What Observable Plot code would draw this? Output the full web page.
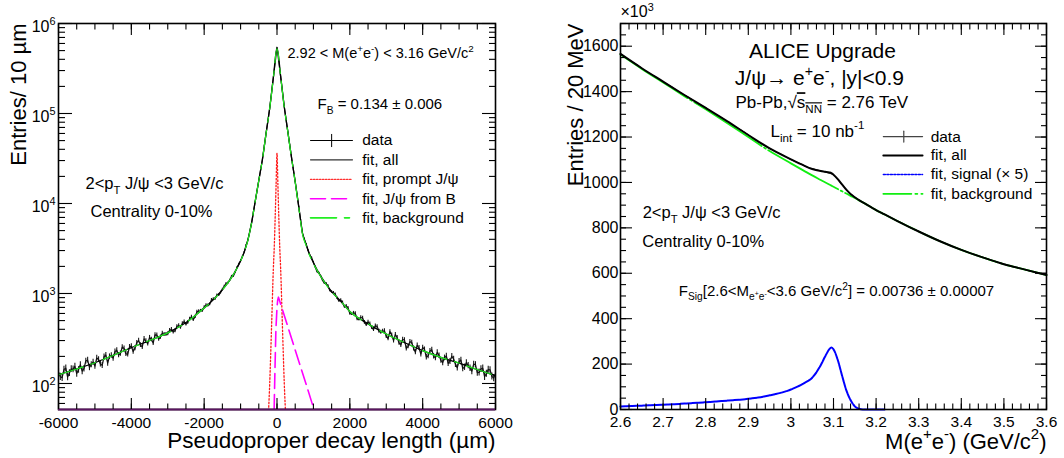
<!DOCTYPE html>
<html><head><meta charset="utf-8">
<script src="https://cdn.jsdelivr.net/npm/d3@7"></script>
<script src="https://cdn.jsdelivr.net/npm/@observablehq/plot@0.6"></script>
<style>
body{margin:0;background:#fff;}
#wrap{display:flex;width:1064px;height:458px;}
</style></head><body><div id="wrap"></div>
<script>
const FONT = '"Liberation Sans", Arial, Helvetica, sans-serif';

// ================= LEFT PANEL DATA (pseudoproper decay length) =================
const leftXTicks = [-6000, -4000, -2000, 0, 2000, 4000, 6000];
const leftYTicks = [1e2, 1e3, 1e4, 1e5, 1e6];
const leftYMin = 51.4, leftYMax = 1e6;
const leftDataX0 = -6000, leftDataStep = 50;
const leftData = [
  134,119,116,143,148,118,131,145,144,155,129,142,162,137,146,178,182,151,162,173,156,
  192,185,165,159,198,207,168,199,205,191,226,234,207,215,254,245,214,211,255,260,
  227,247,284,300,267,255,314,296,277,324,309,281,347,345,312,328,362,351,351,358,
  389,399,375,385,429,441,421,464,486,456,478,520,551,512,550,625,636,640,645,704,
  742,735,759,848,870,872,959,960,1024,1111,1199,1288,1308,1406,1550,1555,1725,1938,2121,2323,
  2574,2871,3434,3939,4880,6050,7930,10400,13700,18100,23600,30800,43200,60500,83000,114000,169500,252000,368000,545000,
  374000,257000,175000,119000,85500,61500,44600,32400,23700,17400,12600,9100,6500,4650,4050,3535,3020,2646,2499,2222,
  1960,1746,1677,1550,1397,1303,1288,1217,1077,1040,1020,979,887,826,845,796,710,728,692,599,
  592,608,601,522,516,541,534,478,450,483,460,418,398,437,430,380,371,380,386,334,
  316,377,345,299,350,323,283,268,308,305,246,259,291,286,246,223,266,248,212,251,
  239,197,202,229,237,201,193,222,204,181,171,193,203,167,176,201,187,163,150,176,
  182,147,152,171,158,148,137,164,162,132,133,145,148,119,129,143,142,120,115,129
];
const leftFitX = [-6000,-5500,-5000,-4500,-4000,-3500,-3000,-2500,-2000,-1750,-1500,-1250,-1000,-900,-800,-700,-600,-500,-400,-300,-200,-100,0,100,200,300,400,500,600,700,800,900,1000,1250,1500,1750,2000,2500,3000,3500,4000,4500,5000,5500,6000];
const leftFitAll = [125,145,170,205,250,300,365,475,690,850,1100,1500,2300,2900,3900,6000,10500,18000,31000,60000,115000,250000,540000,260000,118000,62000,32000,17500,9000,4700,3500,2700,2200,1450,1050,820,630,460,355,285,232,195,168,143,122];
const leftFitBkg = [125,145,170,205,250,300,365,475,690,850,1100,1500,2300,2900,3900,6000,10500,18000,31000,60000,114000,247000,525000,256000,117000,61500,31700,17300,8850,4580,3400,2630,2150,1440,1048,820,630,460,355,285,232,195,168,143,122];
const promptX = [-250,-200,-150,-100,-75,-50,-25,0,25,50,75,100,150,200,250];
const promptY = [35,100,420,1900,3300,7000,16000,36000,16000,7000,3300,1900,420,100,35];
const fromBX = [-90,-60,-30,0,20,40,200,400,600,800,1000,1200];
const fromBY = [30,120,400,700,850,910,570,316,175,98,54,30];
const leftLegendLabels = ["data", "fit, all", "fit, prompt J/ψ", "fit, J/ψ from B", "fit, background"];
const leftLegendRows = [50100, 30600, 18500, 11270, 6930];

// ================= RIGHT PANEL DATA (invariant mass) =================
const rightXTicks = [2.6,2.7,2.8,2.9,3.0,3.1,3.2,3.3,3.4,3.5,3.6];
const rightYTicks = [0,200,400,600,800,1000,1200,1400,1600];
const rightDataX0 = 2.6, rightDataStep = 0.02;
const rightData = [1567,1540,1517,1489,1468,1443,1422,1396,1375,1349,1330,1304,1283,1256,1235,1210,1183,1160,1139,1122,1100,1085,1066,1056,1046,1035,990,950,921,901,877,860,839,822,801,785,766,750,734,717,704,689,677,665,651,641,629,621,610,602,592];
const rightFitM = [2.60,2.65,2.70,2.75,2.80,2.85,2.90,2.95,3.00,3.03,3.05,3.07,3.08,3.09,3.095,3.10,3.11,3.12,3.13,3.14,3.15,3.16,3.17,3.20,3.22,3.25,3.30,3.35,3.40,3.45,3.50,3.55,3.60];
const rightFitAll = [1566,1503,1444,1385,1328,1270,1209,1150,1102,1075,1059,1050,1047,1044,1041,1034,1015,991,968,949,935,922,911,878,859,830,784,741,703,670,640,616,592];
const rightFitBkg = [1563,1500,1440,1380,1322,1262,1200,1138,1084,1052,1031,1011,1001,991,986,981,971,961,951,941,932,921,911,878,859,830,784,741,703,670,640,616,592];
const rightSigM = [2.60,2.65,2.70,2.75,2.80,2.85,2.90,2.95,3.00,3.03,3.05,3.07,3.08,3.09,3.095,3.10,3.11,3.12,3.13,3.14,3.15,3.16,3.17,3.20,3.22];
const rightSigX5 = [13,17,21,26,32,39,47,62,88,115,140,195,232,265,273,265,218,150,85,42,14,3,0,0,0];
const rightLegendLabels = ["data", "fit, all", "fit, signal (× 5)", "fit, background"];
const rightLegendRows = [1202, 1119, 1035, 950];

// ================= rich text (sub/superscripts) =================
function parseRich(str) {
  const out = [];
  (function rec(s, stack) {
    let buf = "";
    for (let i = 0; i < s.length; ) {
      const c = s[i];
      if ((c === "^" || c === "_" || c === "~") && s[i + 1] === "{") {
        if (buf) { out.push({t: buf, stack}); buf = ""; }
        let depth = 1, j = i + 2;
        while (j < s.length && depth) { if (s[j] === "{") depth++; else if (s[j] === "}") depth--; j++; }
        rec(s.slice(i + 2, j - 1), stack.concat(c));
        i = j;
      } else { buf += c; i++; }
    }
    if (buf) out.push({t: buf, stack});
  })(str, []);
  return out;
}
function richify(root) {
  root.querySelectorAll("text").forEach(el => {
    const s = el.textContent;
    if (!/[\^_~]\{/.test(s)) return;
    const fs = parseFloat(getComputedStyle(el).fontSize) || 16;
    el.textContent = "";
    let cur = 0;
    for (const seg of parseRich(s)) {
      let off = 0, sc = 1, ov = false;
      for (const k of seg.stack) {
        if (k === "^") { off -= 0.42 * fs * sc; sc *= 0.68; }
        else if (k === "_") { off += 0.3 * fs * sc; sc *= 0.68; }
        else ov = true;
      }
      const ts = document.createElementNS("http://www.w3.org/2000/svg", "tspan");
      ts.setAttribute("dy", (off - cur).toFixed(2));
      if (sc !== 1) ts.setAttribute("font-size", (fs * sc).toFixed(2));
      if (ov) ts.setAttribute("text-decoration", "overline");
      ts.textContent = seg.t;
      el.appendChild(ts);
      cur = off;
    }
  });
}

// ================= helpers =================
const note = (x, y, t, size, anchor = "start") =>
  Plot.text([{x, y, t}], {x: "x", y: "y", text: "t", fontSize: size, textAnchor: anchor, lineAnchor: "middle", fill: "black"});
const seg = (x1, x2, y, opts) => Plot.line([{x: x1, y}, {x: x2, y}], {x: "x", y: "y", ...opts});
const vseg = (x, y1, y2, opts) => Plot.line([{x, y: y1}, {x, y: y2}], {x: "x", y: "y", ...opts});
const tickMarksX = (vals, size, anchor) => Plot.axisX(vals, {anchor, tickSize: -size, tickFormat: () => "", label: null, strokeWidth: 1.1});
const tickMarksY = (vals, size, anchor) => Plot.axisY(vals, {anchor, tickSize: -size, tickFormat: () => "", label: null, strokeWidth: 1.1});
const sup = ["", "", "2", "3", "4", "5", "6"];

// ================= LEFT PLOT =================
const leftDataRows = leftData.map((v, i) => ({x: leftDataX0 + i * leftDataStep, y: v}));
const leftFitRows = leftFitX.map((x, i) => ({x, all: leftFitAll[i], bkg: leftFitBkg[i]}));
const promptRows = promptX.map((x, i) => ({x, y: promptY[i]}));
const fromBRows = fromBX.map((x, i) => ({x, y: fromBY[i]}));
const leftMinorX = d3.range(-6000, 6001, 500);
const leftMinorY = [];
for (let e = 1; e <= 5; e++) for (let m = 2; m <= 9; m++) { const v = m * 10 ** e; if (v >= leftYMin && v <= leftYMax) leftMinorY.push(v); }

const lx1 = 920, lx2 = 2073, lxc = 1500, lxt = 2339;
const leftPlot = Plot.plot({
  width: 530, height: 458, marginLeft: 58, marginRight: 35, marginTop: 23, marginBottom: 49,
  style: {fontFamily: FONT, background: "white", color: "black", overflow: "visible"},
  x: {domain: [-6000, 6000], axis: null, label: null},
  y: {type: "log", domain: [leftYMin, leftYMax], axis: null, label: null},
  marks: [
    Plot.ruleX(leftDataRows, {x: "x", y1: d => d.y - Math.sqrt(d.y), y2: d => d.y + Math.sqrt(d.y), stroke: "#1a1a1a", strokeWidth: 1.1, clip: true}),
    Plot.line(leftDataRows, {x: "x", y: "y", stroke: "#111", strokeWidth: 1.2, clip: true}),
    Plot.line(promptRows, {x: "x", y: "y", stroke: "#ff1a1a", strokeWidth: 1.3, strokeDasharray: "1.5,2", curve: "monotone-x", clip: true}),
    Plot.line(fromBRows, {x: "x", y: "y", stroke: "#ff00ff", strokeWidth: 1.6, strokeDasharray: "15,6", clip: true}),
    Plot.line(leftFitRows, {x: "x", y: "all", stroke: "black", strokeWidth: 1.3, curve: "monotone-x", clip: true}),
    Plot.line(leftFitRows, {x: "x", y: "bkg", stroke: "#22ee22", strokeWidth: 1.2, strokeDasharray: "26,8,5,8", curve: "monotone-x", clip: true}),
    Plot.frame({stroke: "black", strokeWidth: 1.6}),
    Plot.ruleY([leftYMin], {stroke: "#5a1560", strokeWidth: 2}),
    tickMarksX(leftXTicks, 11, "bottom"), tickMarksX(leftMinorX, 5.5, "bottom"),
    tickMarksX(leftXTicks, 11, "top"), tickMarksX(leftMinorX, 5.5, "top"),
    tickMarksY(leftYTicks, 14, "left"), tickMarksY(leftMinorY, 7, "left"),
    tickMarksY(leftYTicks, 14, "right"), tickMarksY(leftMinorY, 7, "right"),
    Plot.axisX(leftXTicks, {anchor: "bottom", tickSize: 0, tickPadding: 7, fontSize: 15.5, tickFormat: d => String(d), label: null}),
    Plot.axisY(leftYTicks, {anchor: "left", tickSize: 0, tickPadding: 3, fontSize: 16, dy: 3, tickFormat: d => "10^{" + sup[Math.round(Math.log10(d))] + "}", label: null}),
    Plot.text(["Entries/ 10 µm"], {frameAnchor: "top-left", text: d => d, rotate: -90, textAnchor: "end", dx: -48, fontSize: 22}),
    Plot.text(["Pseudoproper decay length (µm)"], {frameAnchor: "bottom-right", text: d => d, textAnchor: "end", dy: 38, fontSize: 22.5}),
    note(288, 460000, "2.92 < M(e^{+}e^{-}) < 3.16 GeV/c^{2}", 14.5),
    note(1112, 126000, "F_{B} = 0.134 ± 0.006", 15),
    note(-5258, 16560, "2<p_{T} J/ψ <3 GeV/c", 16.5),
    note(-5121, 8000, "Centrality 0-10%", 16.5),
    // legend
    seg(lx1, lx2, leftLegendRows[0], {stroke: "black", strokeWidth: 1}),
    vseg(lxc, leftLegendRows[0] / 1.17, leftLegendRows[0] * 1.17, {stroke: "black", strokeWidth: 1}),
    seg(lx1, lx2, leftLegendRows[1], {stroke: "#333", strokeWidth: 1.2}),
    seg(lx1, lx2, leftLegendRows[2], {stroke: "#ff3030", strokeWidth: 1.3, strokeDasharray: "1.5,1.5"}),
    seg(lx1, lx2, leftLegendRows[3], {stroke: "#ff00ff", strokeWidth: 1.6, strokeDasharray: "15,6"}),
    seg(lx1, lx2, leftLegendRows[4], {stroke: "#22ee22", strokeWidth: 1.6, strokeDasharray: "26,8,5,8"}),
    ...leftLegendLabels.map((t, i) => note(lxt, leftLegendRows[i], t, 15.5))
  ]
});

// ================= RIGHT PLOT =================
const rightDataRows = rightData.map((v, i) => ({x: rightDataX0 + i * rightDataStep, y: v}));
const rightFitRows = rightFitM.map((m, i) => ({m, all: rightFitAll[i], bkg: rightFitBkg[i]}));
const sigRows = rightSigM.map((m, i) => ({m, y: rightSigX5[i]}));
const rightMinorX = d3.range(0, 51).map(i => 2.6 + i * 0.02);
const rightMinorY = d3.range(0, 1701, 50);
const rx1 = 3.217, rx2 = 3.309, rxc = 3.265, rxt = 3.328;

const rightPlot = Plot.plot({
  width: 534, height: 458, marginLeft: 90, marginRight: 18, marginTop: 23, marginBottom: 49,
  style: {fontFamily: FONT, background: "white", color: "black", overflow: "visible"},
  x: {domain: [2.6, 3.6], axis: null, label: null},
  y: {domain: [0, 1700], axis: null, label: null},
  marks: [
    Plot.line(sigRows, {x: "m", y: "y", stroke: "#0000ff", strokeWidth: 2, strokeDasharray: "5,1", curve: "monotone-x"}),
    Plot.line(rightFitRows, {x: "m", y: "bkg", stroke: "#11ee11", strokeWidth: 1.8, strokeDasharray: "80,3,2,3", curve: "monotone-x"}),
    Plot.line(rightDataRows, {x: "x", y: "y", stroke: "#222", strokeWidth: 1}),
    Plot.line(rightFitRows, {x: "m", y: "all", stroke: "black", strokeWidth: 2, curve: "monotone-x"}),
    Plot.frame({stroke: "black", strokeWidth: 1.6}),
    tickMarksX(rightXTicks, 11, "bottom"), tickMarksX(rightMinorX, 5.5, "bottom"),
    tickMarksX(rightXTicks, 11, "top"), tickMarksX(rightMinorX, 5.5, "top"),
    tickMarksY(rightYTicks, 12, "left"), tickMarksY(rightMinorY, 6, "left"),
    tickMarksY(rightYTicks, 12, "right"), tickMarksY(rightMinorY, 6, "right"),
    Plot.axisX(rightXTicks, {anchor: "bottom", tickSize: 0, tickPadding: 6, fontSize: 15.5, tickFormat: d => String(+d.toFixed(1)), label: null}),
    Plot.axisY(rightYTicks, {anchor: "left", tickSize: 0, tickPadding: 2, fontSize: 16, tickFormat: d => String(d), label: null}),
    Plot.text(["Entries / 20 MeV"], {frameAnchor: "top-left", text: d => d, rotate: -90, textAnchor: "end", dx: -53, fontSize: 22}),
    Plot.text(["M(e^{+}e^{-}) (GeV/c^{2})"], {frameAnchor: "bottom-right", text: d => d, textAnchor: "end", dy: 39, fontSize: 22}),
    note(2.6, 1750, "×10^{3}", 16),
    note(3.074, 1578, "ALICE Upgrade", 21, "middle"),
    note(3.067, 1461, "J/ψ→ e^{+}e^{-}, |y|<0.9", 21, "middle"),
    note(2.870, 1351, "Pb-Pb,√~{s_{NN}} = 2.76 TeV", 17),
    note(2.952, 1226, "L_{int} = 10 nb^{-1}", 17),
    note(2.652, 866, "2<p_{T} J/ψ <3 GeV/c", 16.5),
    note(2.651, 741, "Centrality 0-10%", 16.5),
    note(2.737, 521, "F_{Sig}[2.6<M_{e^{+}e^{-}}<3.6 GeV/c^{2}] = 0.00736 ± 0.00007", 15),
    // legend
    seg(rx1, rx2, rightLegendRows[0], {stroke: "#444", strokeWidth: 1.2}),
    vseg(rxc, rightLegendRows[0] - 24, rightLegendRows[0] + 24, {stroke: "#444", strokeWidth: 1.2}),
    seg(rx1, rx2, rightLegendRows[1], {stroke: "black", strokeWidth: 2}),
    seg(rx1, rx2, rightLegendRows[2], {stroke: "#0000ff", strokeWidth: 1.5, strokeDasharray: "2,1.5"}),
    seg(rx1, rx2, rightLegendRows[3], {stroke: "#11ee11", strokeWidth: 1.8, strokeDasharray: "28,4,2,4"}),
    ...rightLegendLabels.map((t, i) => note(rxt, rightLegendRows[i], t, 15.5))
  ]
});

const wrap = document.getElementById("wrap");
wrap.appendChild(leftPlot);
wrap.appendChild(rightPlot);
richify(leftPlot);
richify(rightPlot);
</script>
</body></html>
